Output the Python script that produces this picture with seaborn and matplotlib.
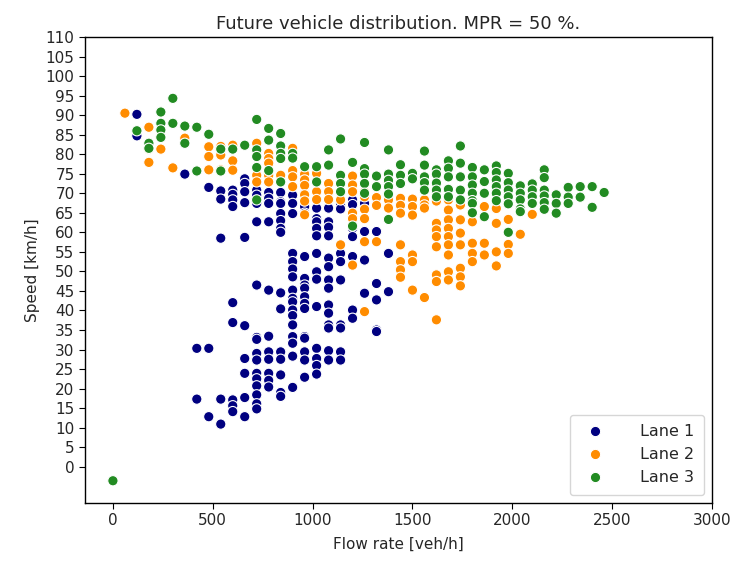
import matplotlib
matplotlib.use("Agg")
import matplotlib.pyplot as plt
import seaborn as sns
import pandas as pd

# ---- data (flow rate columns in veh/h, speeds in km/h) ----
lane1_flows = [120, 360, 420, 480, 540, 600, 660, 720, 780, 840, 900, 960, 1020, 1080, 1140, 1200, 1260, 1320, 1380]
lane1_speeds = [
    [90.2, 84.7],
    [74.9],
    [30.3, 17.3],
    [71.5, 30.3, 12.8],
    [70.6, 68.5, 58.5, 17.3, 10.9],
    [70.8, 69.7, 68.3, 66.6, 42.0, 36.9, 17.1, 15.6, 14.1],
    [73.7, 72.5, 70.4, 67.6, 58.7, 36.1, 27.7, 23.9, 17.7, 12.8],
    [70.8, 69.5, 67.4, 62.7, 46.5, 33.1, 32.6, 29.0, 27.3, 23.9, 22.5, 20.7, 18.4, 16.1, 14.8],
    [70.2, 68.7, 67.4, 62.7, 45.2, 33.4, 29.4, 27.5, 23.9, 22.1, 20.4],
    [70.2, 67.8, 67.4, 64.8, 63.0, 61.0, 60.0, 44.5, 40.4, 29.4, 27.5, 23.5, 19.0, 18.0],
    [69.5, 67.4, 64.8, 54.6, 52.5, 50.6, 48.6, 45.2, 43.1, 42.2, 40.1, 38.7, 36.3, 33.3, 31.6, 28.3, 20.3],
    [69.9, 66.6, 64.9, 53.8, 48.2, 46.5, 45.7, 43.5, 41.8, 40.5, 33.3, 32.9, 29.4, 27.3, 22.9],
    [66.2, 63.5, 62.7, 61.0, 59.1, 54.6, 49.9, 48.0, 41.0, 30.3, 27.7, 25.9, 23.7],
    [66.2, 62.7, 61.3, 59.1, 53.4, 51.2, 47.8, 45.7, 41.4, 39.3, 36.3, 35.5, 29.7, 27.3],
    [67.0, 66.0, 54.6, 52.5, 47.8, 36.3, 35.5, 29.4, 27.3],
    [68.3, 67.1, 61.0, 58.9, 53.8, 40.1, 38.0],
    [67.4, 60.2, 57.6, 52.9, 44.4],
    [60.2, 46.9, 42.7, 35.0, 34.6],
    [54.6, 44.8],
]

lane2_flows = [60, 180, 240, 300, 360, 480, 540, 600, 720, 780, 840, 900, 960, 1020, 1080, 1140, 1200, 1260,
               1320, 1380, 1440, 1500, 1560, 1620, 1680, 1740, 1800, 1860, 1920, 1980, 2040, 2100]
lane2_speeds = [
    [90.5],
    [86.9, 81.3, 77.9],
    [81.3],
    [76.5],
    [84.1],
    [81.9, 79.4, 76.0],
    [82.0, 79.8, 76.0],
    [82.3, 78.3, 75.9],
    [82.8, 74.6, 72.9],
    [80.2, 78.9, 77.7, 74.6, 72.9],
    [74.6],
    [81.5, 75.8, 74.2, 71.7],
    [74.9, 73.4, 72.0, 69.6, 68.0, 64.5],
    [75.1, 70.4, 68.4],
    [72.5, 70.4, 68.4],
    [68.3, 56.8],
    [74.4, 72.1, 70.4, 64.9, 63.5, 51.6],
    [70.4, 69.1, 65.9, 63.5, 57.6, 39.7],
    [68.9, 66.9, 57.6],
    [68.3, 66.2],
    [68.7, 66.9, 64.9, 56.8, 52.5, 50.4, 48.5],
    [68.5, 66.6, 64.4, 54.2, 52.5, 45.2],
    [68.3, 67.0, 66.2, 43.3],
    [68.0, 62.3, 60.6, 58.9, 56.3, 49.1, 47.4, 37.6],
    [68.3, 65.7, 63.2, 61.0, 58.9, 56.8, 54.2, 49.9, 47.8],
    [67.0, 63.2, 59.8, 56.8, 50.8, 48.6, 46.3],
    [62.7, 57.2, 54.6, 52.5],
    [66.6, 57.2, 54.2],
    [66.1, 62.3, 55.0, 51.4],
    [63.3, 56.9, 54.6],
    [59.5],
    [64.6],
]

lane3_flows = [0, 120, 180, 240, 300, 360, 420, 480, 540, 600, 660, 720, 780, 840, 900, 960, 1020, 1080, 1140,
               1200, 1260, 1320, 1380, 1440, 1500, 1560, 1620, 1680, 1740, 1800, 1860, 1920, 1980, 2040, 2100,
               2160, 2220, 2280, 2340, 2400, 2460]
lane3_speeds = [
    [-3.6],
    [86.0],
    [82.8, 81.5],
    [90.8, 87.9, 86.2, 84.3],
    [94.3, 87.9],
    [87.2, 82.8],
    [86.9, 75.7],
    [85.1],
    [81.3, 75.7],
    [81.3],
    [82.3],
    [88.9, 81.1, 79.4, 76.6, 68.3],
    [86.6, 83.6, 75.8],
    [85.3, 82.1, 80.2, 78.9, 72.9],
    [80.2, 79.0],
    [76.8],
    [76.8, 72.9],
    [81.1, 77.2],
    [83.9, 74.6, 72.5, 70.4],
    [77.9, 61.6],
    [83.0, 76.3, 74.9, 72.5, 70.0],
    [74.4, 71.7],
    [81.1, 74.9, 73.3, 71.7, 69.8, 63.3],
    [77.3, 74.6, 72.5],
    [75.1, 73.7],
    [80.8, 77.2, 74.2, 72.7, 70.8],
    [76.0, 74.9, 72.6, 70.8, 69.1],
    [78.3, 76.4, 74.2, 71.0, 69.1],
    [82.1, 77.7, 74.2, 70.8, 68.3],
    [76.6, 74.2, 72.1, 70.0, 68.1, 67.4, 65.0],
    [76.0, 73.0, 70.0, 64.0],
    [77.0, 75.3, 73.4, 71.7, 70.0, 68.1],
    [75.1, 72.7, 70.8, 69.1, 67.3, 60.0],
    [71.9, 70.0, 68.3, 66.0, 65.3],
    [72.4, 70.8, 69.1, 67.4],
    [76.0, 74.0, 70.8, 69.3, 67.6, 65.9],
    [69.6, 67.4, 64.9],
    [71.5, 69.0, 67.4],
    [71.7, 69.0],
    [71.7, 66.4],
    [70.2],
]

lane_names = ["Lane 1", "Lane 2", "Lane 3"]
lane_colors = ["navy", "darkorange", "forestgreen"]
x_ticks = list(range(0, 3001, 500))
y_ticks = list(range(0, 111, 5))

rows = []
for name, flows, speeds in zip(lane_names,
                               [lane1_flows, lane2_flows, lane3_flows],
                               [lane1_speeds, lane2_speeds, lane3_speeds]):
    for f, col in zip(flows, speeds):
        for s in col:
            rows.append({"flow": f, "speed": s, "lane": name})
df = pd.DataFrame(rows)

sns.set_style("ticks")
plt.rcParams["font.family"] = ["DejaVu Sans"]

fig = plt.figure(figsize=(7.35, 5.65), dpi=100)
ax = fig.add_axes([0.1156, 0.1097, 0.8531, 0.8248])

sns.scatterplot(data=df, x="flow", y="speed", hue="lane", hue_order=lane_names,
                palette=lane_colors, s=55, edgecolor="white", linewidth=0.8, ax=ax)

ax.set_xlim(-140, 3000)
ax.set_ylim(-9.3, 110)
ax.set_xticks(x_ticks)
ax.set_yticks(y_ticks)
ax.tick_params(labelsize=11, direction="out", length=4, color="black")
for sp in ax.spines.values():
    sp.set_color("black")
    sp.set_linewidth(1.0)
ax.set_xlabel("Flow rate [veh/h]", fontsize=11, labelpad=6)
ax.set_ylabel("Speed [km/h]", fontsize=11)
ax.set_title("Future vehicle distribution. MPR = 50 %.", fontsize=13)
leg = ax.legend(loc="lower right", fontsize=11.5, title=None, markerscale=1.0,
                handletextpad=1.8, borderpad=0.6)

fig.savefig("out.png", dpi=100)
